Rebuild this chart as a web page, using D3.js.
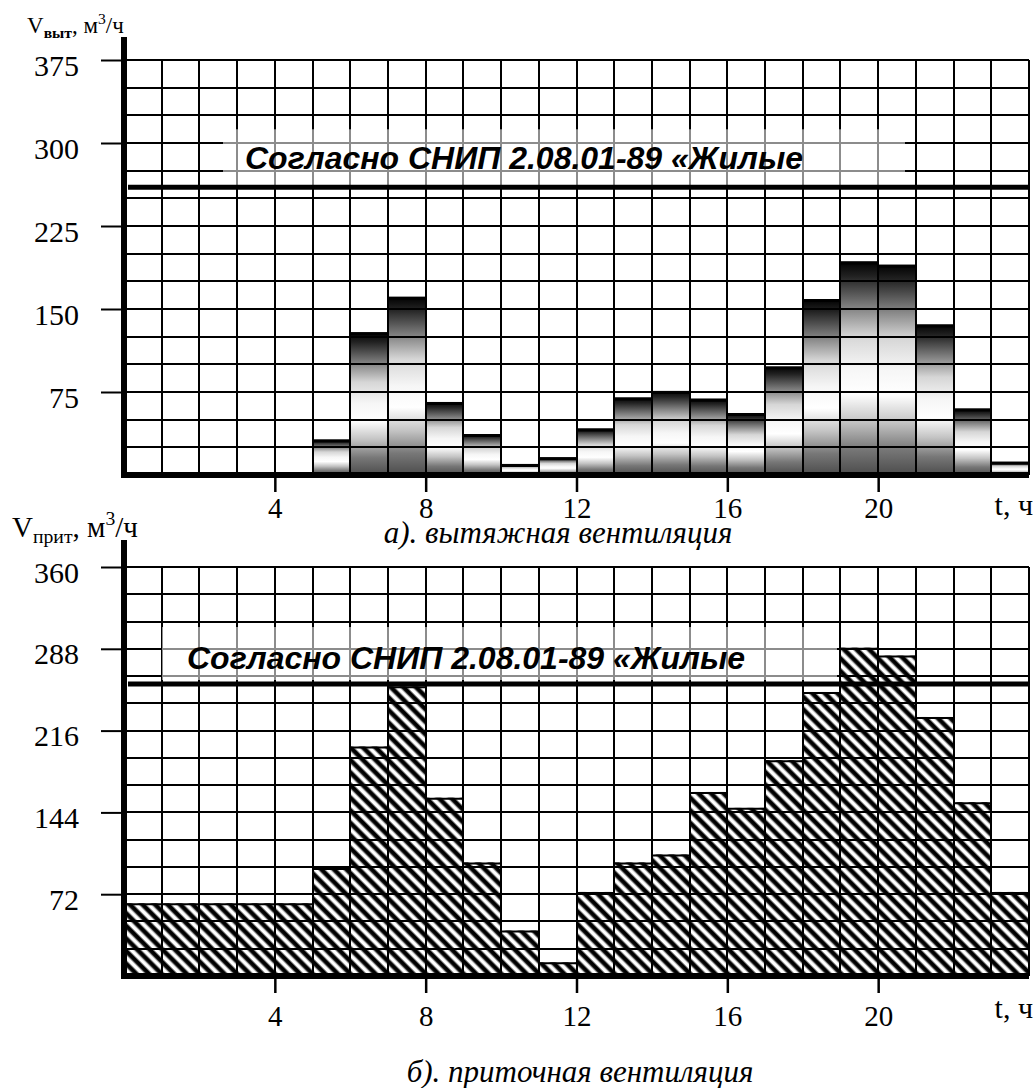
<!DOCTYPE html>
<meta charset="utf-8">
<style>
body { margin: 0; background: #fff; }
svg { display: block; background: #fff; }
.serif { font-family: "Liberation Serif", "Times New Roman", serif; }
.norm { font-family: "Liberation Sans", Arial, sans-serif; font-weight: bold; font-style: italic; }
</style>

<svg id="thevis" width="1035" height="1088"></svg>
<script src="https://cdn.jsdelivr.net/npm/d3@7"></script>

<script>
// hourly air flow, m3/h (bar i covers hour i..i+1)
var hours = [0,1,2,3,4,5,6,7,8,9,10,11,12,13,14,15,16,17,18,19,20,21,22,23];
var exhaust = [0,0,0,0,0,32,129,161,66,37,10,16,42,70,76,69,56,98,159,193,190,136,60,12];
var supply  = [64,64,64,64,64,95,202,255,157,100,40,12,74,100,107,162,148,190,250,289,282,228,153,74];
var exhaustTicks = [75,150,225,300,375];
var supplyTicks  = [72,144,216,288,360];
var hourTicks = [4,8,12,16,20];
var exhaustNorm = 260;
var supplyNorm = 257;
var normText = "Согласно СНИП 2.08.01-89 «Жилые";

var svg = d3.select("svg");
var defs = svg.append("defs");

//metal-like vertical gradient for the exhaust bars
var grad = defs.append("linearGradient").attr("id", "metal")
    .attr("x1", 0).attr("y1", 0).attr("x2", 0).attr("y2", 1);
[[0,"#000"],[0.07,"#222"],[0.2,"#777"],[0.35,"#d6d6d6"],[0.5,"#f6f6f6"],
 [0.62,"#fff"],[0.75,"#c4c4c4"],[0.88,"#777"],[1,"#4c4c4c"]].forEach(function(s) {
  grad.append("stop").attr("offset", s[0]).attr("stop-color", s[1]);
});

//soft edged diagonal hatch for the supply bars
var sg = defs.append("linearGradient").attr("id", "stripe")
    .attr("x1", 0).attr("y1", 0).attr("x2", 1).attr("y2", 0);
[[0,"#fff"],[0.1,"#fff"],[0.3,"#000"],[0.62,"#000"],[0.82,"#fff"],[1,"#fff"]].forEach(function(s) {
  sg.append("stop").attr("offset", s[0]).attr("stop-color", s[1]);
});
defs.append("pattern").attr("id", "hatch")
    .attr("patternUnits", "userSpaceOnUse")
    .attr("width", 8.9).attr("height", 8.9)
    .attr("patternTransform", "rotate(-45)")
  .append("rect")
    .attr("width", 8.9).attr("height", 8.9)
    .attr("fill", "url(#stripe)");

var x = d3.scaleLinear().domain([0, 24]).range([124, 1029]);

function drawChart(c) {
  var y = d3.scaleLinear().domain([0, c.max]).range([c.y0, c.yTop]);
  var g = svg.append("g");
  var bw = x(1) - x(0);

  function bars(sel) {
    sel.selectAll("rect")
      .data(c.values)
      .enter().append("rect")
        .attr("x", function(d, i) { return x(hours[i]); })
        .attr("y", function(d) { return y(d); })
        .attr("width", bw)
        .attr("height", function(d) { return c.y0 - y(d); })
        .attr("fill", c.fill);
  }

  bars(g.append("g"));

  //grid
  var grid = g.append("g").attr("stroke", "#000").attr("stroke-width", 2)
      .attr("shape-rendering", "crispEdges");
  grid.selectAll("line.h")
    .data(d3.range(c.step, c.max + 1, c.step))
    .enter().append("line")
      .attr("x1", x(0)).attr("x2", x(24))
      .attr("y1", y).attr("y2", y);
  grid.selectAll("line.v")
    .data(d3.range(1, 25))
    .enter().append("line")
      .attr("x1", x).attr("x2", x)
      .attr("y1", y(0)).attr("y2", y(c.max));

  //label box lightens the grid behind the norm text
  var ny = y(c.norm);
  g.append("rect")
      .attr("x", c.boxX0).attr("y", ny - c.boxH - c.boxGap)
      .attr("width", c.boxX1 - c.boxX0).attr("height", c.boxH)
      .attr("fill", "#fff").attr("opacity", 0.55);
  defs.append("clipPath").attr("id", c.id + "clip")
    .append("rect")
      .attr("x", c.boxX0).attr("y", ny - c.boxH - c.boxGap)
      .attr("width", c.boxX1 - c.boxX0).attr("height", c.boxH);
  bars(g.append("g").attr("clip-path", "url(#" + c.id + "clip)"));

  //top edge of each bar
  g.append("g").attr("stroke", "#000").attr("stroke-width", c.edge)
    .selectAll("line")
    .data(c.values)
    .enter().append("line")
      .attr("x1", function(d, i) { return x(hours[i]); })
      .attr("x2", function(d, i) { return x(hours[i]) + bw; })
      .attr("y1", function(d) { return y(d) + c.edge / 2; })
      .attr("y2", function(d) { return y(d) + c.edge / 2; })
      .attr("display", function(d) { return d > 0 ? null : "none"; });

  //norm line and its label
  g.append("line")
      .attr("x1", x(0) + 4).attr("x2", x(24))
      .attr("y1", ny).attr("y2", ny)
      .attr("stroke", "#000").attr("stroke-width", 5);
  g.append("text")
      .attr("class", "norm")
      .attr("x", c.textX).attr("y", ny - c.textGap)
      .attr("font-size", 32)
      .text(normText);

  //y axis
  var ya = g.append("g")
      .attr("transform", "translate(" + x(0) + ",0)")
      .call(d3.axisLeft(y).tickValues(c.ticks).tickSize(23).tickPadding(22));
  ya.select(".domain").remove();
  ya.selectAll("line").attr("stroke-width", 2);
  ya.selectAll("text")
      .attr("class", "serif")
      .attr("font-size", 30)
      .attr("dy", "0.5em")
      .attr("fill", "#000");

  //x axis
  var xa = g.append("g")
      .attr("transform", "translate(0," + c.y0 + ")")
      .call(d3.axisBottom(x).tickValues(hourTicks).tickSize(17).tickPadding(c.xPad));
  xa.select(".domain").remove();
  xa.selectAll("line").attr("stroke-width", 2.5);
  xa.selectAll("text")
      .attr("class", "serif")
      .attr("font-size", 29)
      .attr("fill", "#000");

  //thick axis lines
  g.append("line")
      .attr("x1", x(0)).attr("x2", x(0))
      .attr("y1", c.axisTop).attr("y2", c.y0 + 3)
      .attr("stroke", "#000").attr("stroke-width", 6);
  g.append("line")
      .attr("x1", x(0) - 3).attr("x2", x(24))
      .attr("y1", c.y0).attr("y2", c.y0)
      .attr("stroke", "#000").attr("stroke-width", 6);

  g.append("text")
      .attr("class", "serif")
      .attr("x", 1033).attr("y", c.y0 + c.tGap)
      .attr("text-anchor", "end")
      .attr("font-size", 30)
      .text("t, ч");

  //axis title  V_sub, м3/ч
  var t = g.append("text")
      .attr("class", "serif")
      .attr("x", c.titleX).attr("y", c.titleY)
      .attr("font-size", c.titleSize);
  t.append("tspan").text("V");
  t.append("tspan")
      .attr("font-size", c.titleSize * 0.68)
      .attr("font-weight", c.subBold ? "bold" : "normal")
      .attr("dy", c.titleSize * 0.22)
      .text(c.sub);
  t.append("tspan").attr("dy", -c.titleSize * 0.22).text(", м");
  t.append("tspan")
      .attr("font-size", c.titleSize * 0.68)
      .attr("dy", -c.titleSize * 0.4)
      .text("3");
  t.append("tspan").attr("dy", c.titleSize * 0.4).text("/ч");

  //caption
  g.append("text")
      .attr("class", "serif")
      .attr("x", c.capX).attr("y", c.capY)
      .attr("text-anchor", "middle")
      .attr("font-style", "italic")
      .attr("font-size", 31)
      .text(c.caption);
}

drawChart({
  id: "exh", values: exhaust, max: 375, step: 25, ticks: exhaustTicks, norm: exhaustNorm,
  y0: 475, yTop: 60, axisTop: 37, fill: "url(#metal)", edge: 3,
  boxX0: 223, boxX1: 905, boxH: 56, boxGap: 2, textX: 245, textGap: 18,
  xPad: 5, tGap: 40, titleX: 27, titleY: 33, titleSize: 23, sub: "выт", subBold: true,
  capX: 558, capY: 543, caption: "а). вытяжная вентиляция"
});

drawChart({
  id: "sup", values: supply, max: 360, step: 24, ticks: supplyTicks, norm: supplyNorm,
  y0: 976, yTop: 567, axisTop: 540, fill: "url(#hatch)", edge: 2,
  boxX0: 162, boxX1: 837, boxH: 53, boxGap: 4, textX: 187, textGap: 15,
  xPad: 12, tGap: 42, titleX: 12, titleY: 537, titleSize: 29, sub: "прит", subBold: false,
  capX: 580, capY: 1082, caption: "б). приточная вентиляция"
});
</script>
